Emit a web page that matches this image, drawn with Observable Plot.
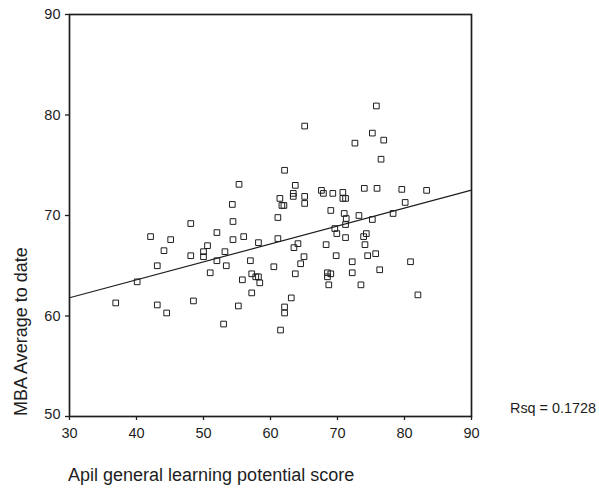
<!DOCTYPE html>
<html>
<head>
<meta charset="utf-8">
<script src="https://cdn.jsdelivr.net/npm/d3@7"></script>
<script src="https://cdn.jsdelivr.net/npm/@observablehq/plot@0.6"></script>
<style>
  html, body { margin: 0; padding: 0; background: #fff; }
  svg { display: block; }
</style>
</head>
<body>
<div id="chart"></div>
<script>
// Apil general learning potential score (x) and MBA average to date (y)
const apilScore = [
  55.3, 54.3, 48.1, 54.4, 42.1, 45.1, 52.0, 56.0, 54.4, 58.2,
  44.1, 50.6, 50.0, 53.2, 48.1, 50.0, 52.0, 53.4, 57.0, 43.1,
  51.0, 40.1, 55.8, 57.2, 57.8, 58.2, 58.4, 57.2, 36.9, 43.1,
  44.5, 48.5, 55.2, 53.0, 75.8, 65.1, 75.2, 76.9, 72.6, 76.5,
  62.1, 63.7, 61.4, 61.7, 62.0, 63.4, 63.4, 65.1, 65.1, 67.6,
  67.9, 69.3, 70.8, 70.8, 71.2, 74.0, 75.9, 79.6, 83.3, 80.1,
  61.1, 69.0, 71.0, 73.2, 71.3, 75.2, 78.3, 69.6, 69.9, 71.2,
  71.2, 74.3, 73.9, 61.1, 64.1, 63.5, 68.3, 74.1, 65.0, 64.5,
  69.8, 74.5, 75.7, 72.2, 80.9, 76.3, 60.5, 63.7, 72.2, 68.5,
  68.5, 69.0, 68.7, 73.5, 82.0, 63.1, 62.1, 62.1, 61.5
];
const mbaAverage = [
  73.1, 71.1, 69.2, 69.4, 67.9, 67.6, 68.3, 67.9, 67.6, 67.3,
  66.5, 67.0, 66.4, 66.4, 66.0, 65.9, 65.5, 65.0, 65.5, 65.0,
  64.3, 63.4, 63.6, 64.2, 63.9, 63.9, 63.3, 62.3, 61.3, 61.1,
  60.3, 61.5, 61.0, 59.2, 80.9, 78.9, 78.2, 77.5, 77.2, 75.6,
  74.5, 73.0, 71.7, 71.0, 71.0, 71.9, 72.2, 71.9, 71.2, 72.5,
  72.2, 72.2, 72.3, 71.7, 71.7, 72.7, 72.7, 72.6, 72.5, 71.3,
  69.8, 70.5, 70.2, 70.0, 69.7, 69.6, 70.2, 68.7, 68.2, 69.1,
  67.8, 68.2, 67.9, 67.7, 67.2, 66.8, 67.1, 67.1, 65.9, 65.2,
  66.0, 66.0, 66.2, 65.4, 65.4, 64.6, 64.9, 64.2, 64.3, 64.3,
  63.9, 64.2, 63.1, 63.1, 62.1, 61.8, 60.9, 60.3, 58.6
];
const xTicks = [30, 40, 50, 60, 70, 80, 90];
const yTicks = [50, 60, 70, 80, 90];
const xLabel = "Apil general learning potential score";
const yLabel = "MBA Average to date";
const rsqLabel = "Rsq = 0.1728";

const points = apilScore.map((x, i) => ({x, y: mbaAverage[i]}));

// least-squares fit from the data, drawn across the whole x domain
const mx = d3.mean(apilScore), my = d3.mean(mbaAverage);
const slope = d3.sum(points, d => (d.x - mx) * (d.y - my)) / d3.sum(points, d => (d.x - mx) ** 2);
const intercept = my - slope * mx;
const xExtent = d3.extent(xTicks);
const fitLine = xExtent.map(x => ({x, y: intercept + slope * x}));

const ink = "#1e1e1e";
const chart = Plot.plot({
  width: 599,
  height: 491,
  marginLeft: 69,
  marginRight: 128,
  marginTop: 14,
  marginBottom: 75,
  style: {fontFamily: "'Liberation Sans', Arial, Helvetica, sans-serif", fontSize: "14.5px", color: ink, background: "#fff"},
  x: {domain: xExtent},
  y: {domain: d3.extent(yTicks)},
  marks: [
    Plot.axisX({ticks: xTicks, tickSize: 4, tickPadding: 7, label: null, stroke: ink, strokeWidth: 1.3, fontSize: 14.5}),
    Plot.axisY({ticks: yTicks, tickSize: 4, tickPadding: 5, label: null, stroke: ink, strokeWidth: 1.3, fontSize: 14.5}),
    Plot.line(fitLine, {x: "x", y: "y", stroke: ink, strokeWidth: 1.2}),
    Plot.dot(points, {x: "x", y: "y", symbol: "square", r: 3.2, stroke: ink, strokeWidth: 1, fill: "none"}),
    Plot.frame({stroke: ink, strokeWidth: 1.7})
  ]
});

const svg = d3.select(chart);
// the lowest y tick label sits slightly above its tick, clear of the x axis
svg.selectAll("g[aria-label='y-axis tick label'] text")
  .filter(function () { return this.textContent === String(d3.min(yTicks)); })
  .attr("dy", "-0.17em");

const font = "'Liberation Sans', Arial, Helvetica, sans-serif";
svg.append("text")
  .attr("transform", "translate(27,416) rotate(-90)")
  .attr("text-anchor", "start")
  .attr("font-family", font).attr("font-size", 18).attr("fill", ink)
  .text(yLabel);
svg.append("text")
  .attr("x", 68).attr("y", 481)
  .attr("text-anchor", "start")
  .attr("font-family", font).attr("font-size", 18).attr("fill", ink)
  .text(xLabel);
svg.append("text")
  .attr("x", 510).attr("y", 413)
  .attr("text-anchor", "start")
  .attr("font-family", font).attr("font-size", 14.4).attr("fill", ink)
  .text(rsqLabel);

document.getElementById("chart").appendChild(chart);
</script>
</body>
</html>
